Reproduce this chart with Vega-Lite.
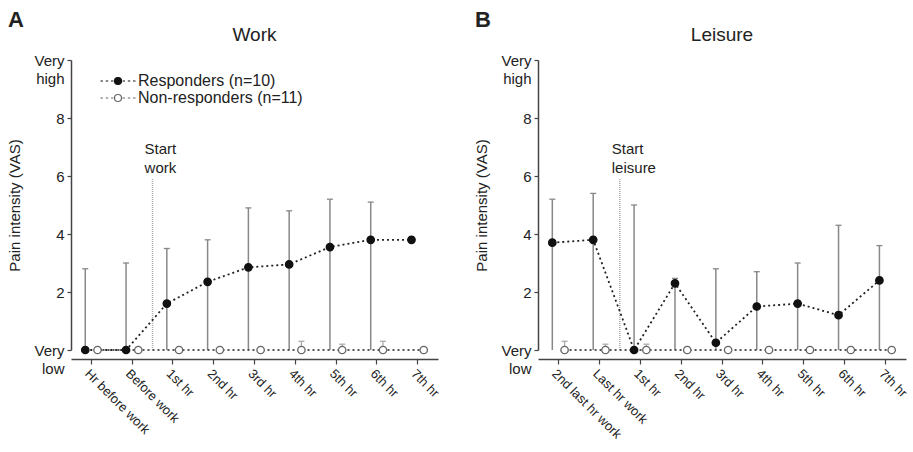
{
  "$schema": "https://vega.github.io/schema/vega-lite/v6.json",
  "background": "white",
  "padding": {"left": 7, "top": 9, "right": 4, "bottom": 2},
  "datasets": {
    "work": [
      {"hour": "Hr before work", "group": "Responders (n=10)", "mean": 0, "lower": 0, "upper": 2.8},
      {"hour": "Before work", "group": "Responders (n=10)", "mean": 0, "lower": 0, "upper": 3.0},
      {"hour": "1st hr", "group": "Responders (n=10)", "mean": 1.6, "lower": 0, "upper": 3.5},
      {"hour": "2nd hr", "group": "Responders (n=10)", "mean": 2.35, "lower": 0, "upper": 3.8},
      {"hour": "3rd hr", "group": "Responders (n=10)", "mean": 2.85, "lower": 0, "upper": 4.9},
      {"hour": "4th hr", "group": "Responders (n=10)", "mean": 2.95, "lower": 0, "upper": 4.8},
      {"hour": "5th hr", "group": "Responders (n=10)", "mean": 3.55, "lower": 0, "upper": 5.2},
      {"hour": "6th hr", "group": "Responders (n=10)", "mean": 3.8, "lower": 0, "upper": 5.1},
      {"hour": "7th hr", "group": "Responders (n=10)", "mean": 3.8, "lower": 0, "upper": null},
      {"hour": "Hr before work", "group": "Non-responders (n=11)", "mean": 0, "lower": 0, "upper": null},
      {"hour": "Before work", "group": "Non-responders (n=11)", "mean": 0, "lower": 0, "upper": null},
      {"hour": "1st hr", "group": "Non-responders (n=11)", "mean": 0, "lower": 0, "upper": null},
      {"hour": "2nd hr", "group": "Non-responders (n=11)", "mean": 0, "lower": 0, "upper": null},
      {"hour": "3rd hr", "group": "Non-responders (n=11)", "mean": 0, "lower": 0, "upper": null},
      {"hour": "4th hr", "group": "Non-responders (n=11)", "mean": 0, "lower": 0, "upper": 0.3},
      {"hour": "5th hr", "group": "Non-responders (n=11)", "mean": 0, "lower": 0, "upper": 0.2},
      {"hour": "6th hr", "group": "Non-responders (n=11)", "mean": 0, "lower": 0, "upper": 0.3},
      {"hour": "7th hr", "group": "Non-responders (n=11)", "mean": 0, "lower": 0, "upper": null}
    ],
    "leisure": [
      {"hour": "2nd last hr work", "group": "Responders (n=10)", "mean": 3.7, "lower": 0, "upper": 5.2},
      {"hour": "Last hr work", "group": "Responders (n=10)", "mean": 3.8, "lower": 0, "upper": 5.4},
      {"hour": "1st hr", "group": "Responders (n=10)", "mean": 0, "lower": 0, "upper": 5.0},
      {"hour": "2nd hr", "group": "Responders (n=10)", "mean": 2.3, "lower": 0, "upper": 2.47},
      {"hour": "3rd hr", "group": "Responders (n=10)", "mean": 0.25, "lower": 0, "upper": 2.8},
      {"hour": "4th hr", "group": "Responders (n=10)", "mean": 1.5, "lower": 0, "upper": 2.7},
      {"hour": "5th hr", "group": "Responders (n=10)", "mean": 1.6, "lower": 0, "upper": 3.0},
      {"hour": "6th hr", "group": "Responders (n=10)", "mean": 1.2, "lower": 0, "upper": 4.3},
      {"hour": "7th hr", "group": "Responders (n=10)", "mean": 2.4, "lower": 0, "upper": 3.6},
      {"hour": "2nd last hr work", "group": "Non-responders (n=11)", "mean": 0, "lower": 0, "upper": 0.3},
      {"hour": "Last hr work", "group": "Non-responders (n=11)", "mean": 0, "lower": 0, "upper": 0.2},
      {"hour": "1st hr", "group": "Non-responders (n=11)", "mean": 0, "lower": 0, "upper": 0.2},
      {"hour": "2nd hr", "group": "Non-responders (n=11)", "mean": 0, "lower": 0, "upper": null},
      {"hour": "3rd hr", "group": "Non-responders (n=11)", "mean": 0, "lower": 0, "upper": null},
      {"hour": "4th hr", "group": "Non-responders (n=11)", "mean": 0, "lower": 0, "upper": null},
      {"hour": "5th hr", "group": "Non-responders (n=11)", "mean": 0, "lower": 0, "upper": null},
      {"hour": "6th hr", "group": "Non-responders (n=11)", "mean": 0, "lower": 0, "upper": null},
      {"hour": "7th hr", "group": "Non-responders (n=11)", "mean": 0, "lower": 0, "upper": null}
    ],
    "workNote": [{"hour": "Before work", "label": "Start\nwork", "top": 5.9, "base": 0}],
    "leisureNote": [{"hour": "Last hr work", "label": "Start\nleisure", "top": 5.9, "base": 0}]
  },
  "config": {
    "font": "Liberation Sans",
    "view": {"stroke": null},
    "concat": {"spacing": 33},
    "axis": {
      "labelFont": "Liberation Sans", "titleFont": "Liberation Sans", "titleFontWeight": "normal",
      "labelColor": "#222", "titleColor": "#222", "domainColor": "#444", "tickColor": "#444",
      "domainWidth": 1.5, "tickWidth": 1.2, "grid": false
    },
    "title": {"font": "Liberation Sans", "color": "#222"},
    "text": {"font": "Liberation Sans"}
  },
  "hconcat": [
    {
      "title": {"text": "A", "anchor": "start", "fontSize": 22, "fontWeight": "bold", "offset": -6},
      "vconcat": [
        {
          "width": 367,
          "height": 290,
          "title": {"text": "Work", "frame": "group", "anchor": "middle", "fontSize": 19, "fontWeight": "normal", "offset": 8},
          "data": {"name": "work"},
          "layer": [
            {
              "data": {"name": "workNote"},
              "mark": {"type": "rule", "color": "#aaa", "strokeDash": [1, 1], "strokeWidth": 1.5},
              "encoding": {
                "x": {"field": "hour", "type": "ordinal", "bandPosition": 1, "scale": {"type": "band", "domain": ["Hr before work", "Before work", "1st hr", "2nd hr", "3rd hr", "4th hr", "5th hr", "6th hr", "7th hr"], "paddingInner": 0, "paddingOuter": 0}, "axis": {"title": null, "labelAngle": 45, "labelAlign": "left", "labelBaseline": "top", "labelFontSize": 13, "labelPadding": 3, "tickSize": 5, "offset": 9}},
                "y": {"field": "top", "type": "quantitative", "scale": {"domain": [0, 10], "nice": false, "zero": false}, "axis": {"title": "Pain intensity (VAS)", "titleFontSize": 15, "titlePadding": 11, "values": [0, 1, 2, 3, 4, 5, 6, 7, 8, 9, 10], "labelExpr": "datum.value == 10 ? ['Very', 'high'] : datum.value == 0 ? ['Very', 'low'] : (datum.value % 2 == 0 ? datum.label : '')", "labelFontSize": 15, "labelPadding": 3, "labelOverlap": false, "labelLineHeight": 18, "tickSize": 4}},
                "y2": {"field": "base"}
              }
            },
            {
              "data": {"name": "workNote"},
              "mark": {"type": "text", "align": "left", "baseline": "bottom", "dx": -8, "dy": -22, "fontSize": 15, "lineBreak": "\n", "lineHeight": 19, "color": "#222"},
              "encoding": {
                "x": {"field": "hour", "type": "ordinal", "bandPosition": 1, "scale": {"type": "band", "domain": ["Hr before work", "Before work", "1st hr", "2nd hr", "3rd hr", "4th hr", "5th hr", "6th hr", "7th hr"], "paddingInner": 0, "paddingOuter": 0}},
                "y": {"field": "top", "type": "quantitative", "scale": {"domain": [0, 10], "nice": false, "zero": false}},
                "text": {"field": "label", "type": "nominal"}
              }
            },
            {
              "transform": [{"filter": "datum.group == 'Non-responders (n=11)' && isValid(datum.upper)"}],
              "mark": {"type": "rule", "color": "#aaa", "strokeWidth": 1.3},
              "encoding": {
                "x": {"field": "hour", "type": "ordinal", "bandPosition": 0.65, "scale": {"type": "band", "domain": ["Hr before work", "Before work", "1st hr", "2nd hr", "3rd hr", "4th hr", "5th hr", "6th hr", "7th hr"], "paddingInner": 0, "paddingOuter": 0}},
                "y": {"field": "lower", "type": "quantitative", "scale": {"domain": [0, 10], "nice": false, "zero": false}},
                "y2": {"field": "upper"}
              }
            },
            {
              "transform": [{"filter": "datum.group == 'Non-responders (n=11)' && isValid(datum.upper)"}],
              "mark": {"type": "point", "shape": "stroke", "filled": false, "color": "#aaa", "size": 36, "strokeWidth": 1.3, "opacity": 1},
              "encoding": {
                "x": {"field": "hour", "type": "ordinal", "bandPosition": 0.65, "scale": {"type": "band", "domain": ["Hr before work", "Before work", "1st hr", "2nd hr", "3rd hr", "4th hr", "5th hr", "6th hr", "7th hr"], "paddingInner": 0, "paddingOuter": 0}},
                "y": {"field": "upper", "type": "quantitative", "scale": {"domain": [0, 10], "nice": false, "zero": false}}
              }
            },
            {
              "transform": [{"filter": "datum.group == 'Responders (n=10)' && isValid(datum.upper)"}],
              "mark": {"type": "rule", "color": "#888", "strokeWidth": 1.5},
              "encoding": {
                "x": {"field": "hour", "type": "ordinal", "bandPosition": 0.35, "scale": {"type": "band", "domain": ["Hr before work", "Before work", "1st hr", "2nd hr", "3rd hr", "4th hr", "5th hr", "6th hr", "7th hr"], "paddingInner": 0, "paddingOuter": 0}},
                "y": {"field": "lower", "type": "quantitative", "scale": {"domain": [0, 10], "nice": false, "zero": false}},
                "y2": {"field": "upper"}
              }
            },
            {
              "transform": [{"filter": "datum.group == 'Responders (n=10)' && isValid(datum.upper)"}],
              "mark": {"type": "point", "shape": "stroke", "filled": false, "color": "#888", "size": 36, "strokeWidth": 1.3, "opacity": 1},
              "encoding": {
                "x": {"field": "hour", "type": "ordinal", "bandPosition": 0.35, "scale": {"type": "band", "domain": ["Hr before work", "Before work", "1st hr", "2nd hr", "3rd hr", "4th hr", "5th hr", "6th hr", "7th hr"], "paddingInner": 0, "paddingOuter": 0}},
                "y": {"field": "upper", "type": "quantitative", "scale": {"domain": [0, 10], "nice": false, "zero": false}}
              }
            },
            {
              "transform": [{"filter": "datum.group == 'Non-responders (n=11)'"}],
              "mark": {"type": "line", "color": "#555", "strokeDash": [2, 3], "strokeWidth": 1.8},
              "encoding": {
                "x": {"field": "hour", "type": "ordinal", "bandPosition": 0.65, "scale": {"type": "band", "domain": ["Hr before work", "Before work", "1st hr", "2nd hr", "3rd hr", "4th hr", "5th hr", "6th hr", "7th hr"], "paddingInner": 0, "paddingOuter": 0}},
                "y": {"field": "mean", "type": "quantitative", "scale": {"domain": [0, 10], "nice": false, "zero": false}}
              }
            },
            {
              "transform": [{"filter": "datum.group == 'Responders (n=10)'"}],
              "mark": {"type": "line", "color": "#222", "strokeDash": [2, 3], "strokeWidth": 1.8},
              "encoding": {
                "x": {"field": "hour", "type": "ordinal", "bandPosition": 0.35, "scale": {"type": "band", "domain": ["Hr before work", "Before work", "1st hr", "2nd hr", "3rd hr", "4th hr", "5th hr", "6th hr", "7th hr"], "paddingInner": 0, "paddingOuter": 0}},
                "y": {"field": "mean", "type": "quantitative", "scale": {"domain": [0, 10], "nice": false, "zero": false}}
              }
            },
            {
              "transform": [{"filter": "datum.group == 'Non-responders (n=11)'"}],
              "mark": {"type": "point", "shape": "circle", "filled": true, "size": 55, "strokeWidth": 1.3, "opacity": 1, "clip": false},
              "encoding": {
                "x": {"field": "hour", "type": "ordinal", "bandPosition": 0.65, "scale": {"type": "band", "domain": ["Hr before work", "Before work", "1st hr", "2nd hr", "3rd hr", "4th hr", "5th hr", "6th hr", "7th hr"], "paddingInner": 0, "paddingOuter": 0}},
                "y": {"field": "mean", "type": "quantitative", "scale": {"domain": [0, 10], "nice": false, "zero": false}},
                "fill": {"field": "group", "type": "nominal", "scale": {"domain": ["Responders (n=10)", "Non-responders (n=11)"], "range": ["#111", "#ffffff"]}, "legend": {"title": null, "orient": "none", "legendX": 39, "legendY": 13, "padding": 0, "symbolType": "M1,0A1,1,0,1,1,-1,0A1,1,0,1,1,1,0ZM-5,0H-4.3M-3.5,0H-2.8M-2,0H-1.3M1.3,0H2M2.8,0H3.5M4.3,0H5", "symbolSize": 49, "symbolStrokeWidth": 1.2, "labelFontSize": 16, "labelOffset": 12, "labelLimit": 400, "rowPadding": 1, "labelColor": "#222", "labelFont": "Liberation Sans"}},
                "stroke": {"field": "group", "type": "nominal", "scale": {"domain": ["Responders (n=10)", "Non-responders (n=11)"], "range": ["#111", "#666"]}, "legend": {"title": null, "orient": "none", "legendX": 39, "legendY": 13, "padding": 0, "symbolType": "M1,0A1,1,0,1,1,-1,0A1,1,0,1,1,1,0ZM-5,0H-4.3M-3.5,0H-2.8M-2,0H-1.3M1.3,0H2M2.8,0H3.5M4.3,0H5", "symbolSize": 49, "symbolStrokeWidth": 1.2, "labelFontSize": 16, "labelOffset": 12, "labelLimit": 400, "rowPadding": 1, "labelColor": "#222", "labelFont": "Liberation Sans"}}
              }
            },
            {
              "transform": [{"filter": "datum.group == 'Responders (n=10)'"}],
              "mark": {"type": "point", "shape": "circle", "filled": true, "size": 55, "strokeWidth": 1.3, "opacity": 1, "clip": false},
              "encoding": {
                "x": {"field": "hour", "type": "ordinal", "bandPosition": 0.35, "scale": {"type": "band", "domain": ["Hr before work", "Before work", "1st hr", "2nd hr", "3rd hr", "4th hr", "5th hr", "6th hr", "7th hr"], "paddingInner": 0, "paddingOuter": 0}},
                "y": {"field": "mean", "type": "quantitative", "scale": {"domain": [0, 10], "nice": false, "zero": false}},
                "fill": {"field": "group", "type": "nominal", "scale": {"domain": ["Responders (n=10)", "Non-responders (n=11)"], "range": ["#111", "#ffffff"]}},
                "stroke": {"field": "group", "type": "nominal", "scale": {"domain": ["Responders (n=10)", "Non-responders (n=11)"], "range": ["#111", "#666"]}}
              }
            }
          ]
        }
      ]
    },
    {
      "title": {"text": "B", "anchor": "start", "fontSize": 22, "fontWeight": "bold", "offset": -6},
      "vconcat": [
        {
          "width": 368,
          "height": 290,
          "title": {"text": "Leisure", "frame": "group", "anchor": "middle", "fontSize": 19, "fontWeight": "normal", "offset": 8},
          "data": {"name": "leisure"},
          "layer": [
            {
              "data": {"name": "leisureNote"},
              "mark": {"type": "rule", "color": "#aaa", "strokeDash": [1, 1], "strokeWidth": 1.5},
              "encoding": {
                "x": {"field": "hour", "type": "ordinal", "bandPosition": 1, "scale": {"type": "band", "domain": ["2nd last hr work", "Last hr work", "1st hr", "2nd hr", "3rd hr", "4th hr", "5th hr", "6th hr", "7th hr"], "paddingInner": 0, "paddingOuter": 0}, "axis": {"title": null, "labelAngle": 45, "labelAlign": "left", "labelBaseline": "top", "labelFontSize": 13, "labelPadding": 3, "tickSize": 5, "offset": 9}},
                "y": {"field": "top", "type": "quantitative", "scale": {"domain": [0, 10], "nice": false, "zero": false}, "axis": {"title": "Pain intensity (VAS)", "titleFontSize": 15, "titlePadding": 11, "values": [0, 1, 2, 3, 4, 5, 6, 7, 8, 9, 10], "labelExpr": "datum.value == 10 ? ['Very', 'high'] : datum.value == 0 ? ['Very', 'low'] : (datum.value % 2 == 0 ? datum.label : '')", "labelFontSize": 15, "labelPadding": 3, "labelOverlap": false, "labelLineHeight": 18, "tickSize": 4}},
                "y2": {"field": "base"}
              }
            },
            {
              "data": {"name": "leisureNote"},
              "mark": {"type": "text", "align": "left", "baseline": "bottom", "dx": -8, "dy": -22, "fontSize": 15, "lineBreak": "\n", "lineHeight": 19, "color": "#222"},
              "encoding": {
                "x": {"field": "hour", "type": "ordinal", "bandPosition": 1, "scale": {"type": "band", "domain": ["2nd last hr work", "Last hr work", "1st hr", "2nd hr", "3rd hr", "4th hr", "5th hr", "6th hr", "7th hr"], "paddingInner": 0, "paddingOuter": 0}},
                "y": {"field": "top", "type": "quantitative", "scale": {"domain": [0, 10], "nice": false, "zero": false}},
                "text": {"field": "label", "type": "nominal"}
              }
            },
            {
              "transform": [{"filter": "datum.group == 'Non-responders (n=11)' && isValid(datum.upper)"}],
              "mark": {"type": "rule", "color": "#aaa", "strokeWidth": 1.3},
              "encoding": {
                "x": {"field": "hour", "type": "ordinal", "bandPosition": 0.65, "scale": {"type": "band", "domain": ["2nd last hr work", "Last hr work", "1st hr", "2nd hr", "3rd hr", "4th hr", "5th hr", "6th hr", "7th hr"], "paddingInner": 0, "paddingOuter": 0}},
                "y": {"field": "lower", "type": "quantitative", "scale": {"domain": [0, 10], "nice": false, "zero": false}},
                "y2": {"field": "upper"}
              }
            },
            {
              "transform": [{"filter": "datum.group == 'Non-responders (n=11)' && isValid(datum.upper)"}],
              "mark": {"type": "point", "shape": "stroke", "filled": false, "color": "#aaa", "size": 36, "strokeWidth": 1.3, "opacity": 1},
              "encoding": {
                "x": {"field": "hour", "type": "ordinal", "bandPosition": 0.65, "scale": {"type": "band", "domain": ["2nd last hr work", "Last hr work", "1st hr", "2nd hr", "3rd hr", "4th hr", "5th hr", "6th hr", "7th hr"], "paddingInner": 0, "paddingOuter": 0}},
                "y": {"field": "upper", "type": "quantitative", "scale": {"domain": [0, 10], "nice": false, "zero": false}}
              }
            },
            {
              "transform": [{"filter": "datum.group == 'Responders (n=10)' && isValid(datum.upper)"}],
              "mark": {"type": "rule", "color": "#888", "strokeWidth": 1.5},
              "encoding": {
                "x": {"field": "hour", "type": "ordinal", "bandPosition": 0.35, "scale": {"type": "band", "domain": ["2nd last hr work", "Last hr work", "1st hr", "2nd hr", "3rd hr", "4th hr", "5th hr", "6th hr", "7th hr"], "paddingInner": 0, "paddingOuter": 0}},
                "y": {"field": "lower", "type": "quantitative", "scale": {"domain": [0, 10], "nice": false, "zero": false}},
                "y2": {"field": "upper"}
              }
            },
            {
              "transform": [{"filter": "datum.group == 'Responders (n=10)' && isValid(datum.upper)"}],
              "mark": {"type": "point", "shape": "stroke", "filled": false, "color": "#888", "size": 36, "strokeWidth": 1.3, "opacity": 1},
              "encoding": {
                "x": {"field": "hour", "type": "ordinal", "bandPosition": 0.35, "scale": {"type": "band", "domain": ["2nd last hr work", "Last hr work", "1st hr", "2nd hr", "3rd hr", "4th hr", "5th hr", "6th hr", "7th hr"], "paddingInner": 0, "paddingOuter": 0}},
                "y": {"field": "upper", "type": "quantitative", "scale": {"domain": [0, 10], "nice": false, "zero": false}}
              }
            },
            {
              "transform": [{"filter": "datum.group == 'Non-responders (n=11)'"}],
              "mark": {"type": "line", "color": "#555", "strokeDash": [2, 3], "strokeWidth": 1.8},
              "encoding": {
                "x": {"field": "hour", "type": "ordinal", "bandPosition": 0.65, "scale": {"type": "band", "domain": ["2nd last hr work", "Last hr work", "1st hr", "2nd hr", "3rd hr", "4th hr", "5th hr", "6th hr", "7th hr"], "paddingInner": 0, "paddingOuter": 0}},
                "y": {"field": "mean", "type": "quantitative", "scale": {"domain": [0, 10], "nice": false, "zero": false}}
              }
            },
            {
              "transform": [{"filter": "datum.group == 'Responders (n=10)'"}],
              "mark": {"type": "line", "color": "#222", "strokeDash": [2, 3], "strokeWidth": 1.8},
              "encoding": {
                "x": {"field": "hour", "type": "ordinal", "bandPosition": 0.35, "scale": {"type": "band", "domain": ["2nd last hr work", "Last hr work", "1st hr", "2nd hr", "3rd hr", "4th hr", "5th hr", "6th hr", "7th hr"], "paddingInner": 0, "paddingOuter": 0}},
                "y": {"field": "mean", "type": "quantitative", "scale": {"domain": [0, 10], "nice": false, "zero": false}}
              }
            },
            {
              "transform": [{"filter": "datum.group == 'Non-responders (n=11)'"}],
              "mark": {"type": "point", "shape": "circle", "filled": true, "size": 55, "strokeWidth": 1.3, "opacity": 1, "clip": false},
              "encoding": {
                "x": {"field": "hour", "type": "ordinal", "bandPosition": 0.65, "scale": {"type": "band", "domain": ["2nd last hr work", "Last hr work", "1st hr", "2nd hr", "3rd hr", "4th hr", "5th hr", "6th hr", "7th hr"], "paddingInner": 0, "paddingOuter": 0}},
                "y": {"field": "mean", "type": "quantitative", "scale": {"domain": [0, 10], "nice": false, "zero": false}},
                "fill": {"field": "group", "type": "nominal", "scale": {"domain": ["Responders (n=10)", "Non-responders (n=11)"], "range": ["#111", "#ffffff"]}, "legend": null},
                "stroke": {"field": "group", "type": "nominal", "scale": {"domain": ["Responders (n=10)", "Non-responders (n=11)"], "range": ["#111", "#666"]}, "legend": null}
              }
            },
            {
              "transform": [{"filter": "datum.group == 'Responders (n=10)'"}],
              "mark": {"type": "point", "shape": "circle", "filled": true, "size": 55, "strokeWidth": 1.3, "opacity": 1, "clip": false},
              "encoding": {
                "x": {"field": "hour", "type": "ordinal", "bandPosition": 0.35, "scale": {"type": "band", "domain": ["2nd last hr work", "Last hr work", "1st hr", "2nd hr", "3rd hr", "4th hr", "5th hr", "6th hr", "7th hr"], "paddingInner": 0, "paddingOuter": 0}},
                "y": {"field": "mean", "type": "quantitative", "scale": {"domain": [0, 10], "nice": false, "zero": false}},
                "fill": {"field": "group", "type": "nominal", "scale": {"domain": ["Responders (n=10)", "Non-responders (n=11)"], "range": ["#111", "#ffffff"]}, "legend": null},
                "stroke": {"field": "group", "type": "nominal", "scale": {"domain": ["Responders (n=10)", "Non-responders (n=11)"], "range": ["#111", "#666"]}, "legend": null}
              }
            }
          ]
        }
      ]
    }
  ]
}
